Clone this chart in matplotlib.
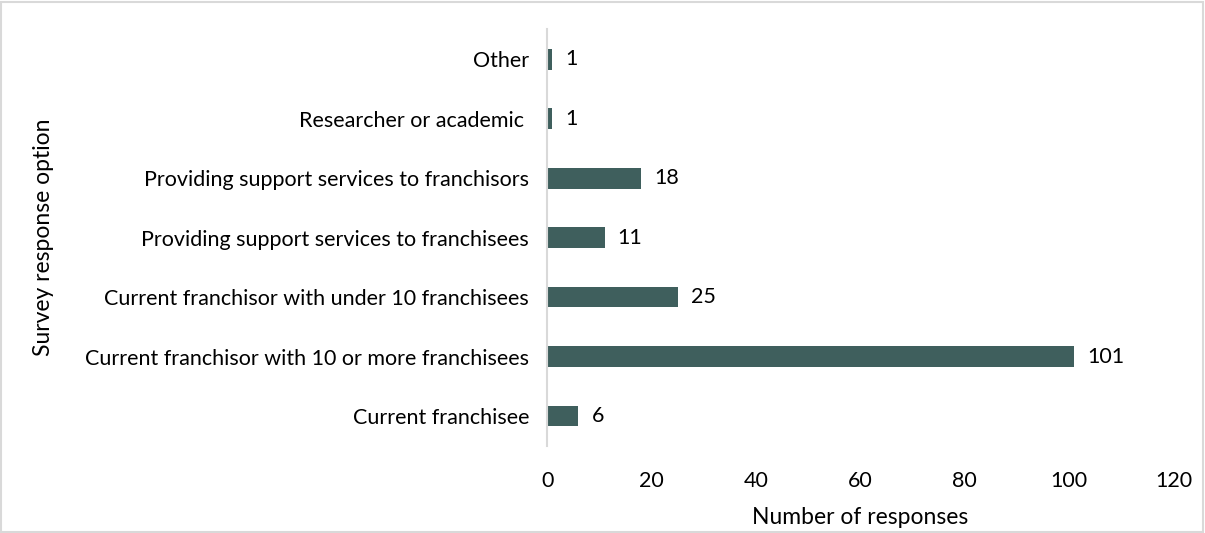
import matplotlib.pyplot as plt
from matplotlib.patches import Rectangle

categories = [
    'Current franchisee',
    'Current franchisor with 10 or more franchisees',
    'Current franchisor with under 10 franchisees',
    'Providing support services to franchisees',
    'Providing support services to franchisors',
    'Researcher or academic ',
    'Other',
]
responses = [6, 101, 25, 11, 18, 1, 1]
x_ticks = [0, 20, 40, 60, 80, 100, 120]

plt.rcParams['font.family'] = ['Lato', 'DejaVu Sans']

fig = plt.figure(figsize=(12.05, 5.33), dpi=100)
ax = fig.add_axes([0.454, 0.1637, 0.52, 0.781])

ypos = range(len(categories))
bars = ax.barh(ypos, responses, height=0.35, color='#3f5f5d')
for y, v in zip(ypos, responses):
    ax.text(v + 2.5, y, str(v), va='center', ha='left', fontsize=15.5, color='#000000')

ax.set_yticks(list(ypos))
ax.set_yticklabels(categories, fontsize=15.5)
ax.set_xticks(x_ticks)
ax.set_xticklabels([str(t) for t in x_ticks], fontsize=15.5)
ax.set_xlim(0, 120)
ax.set_ylim(-0.5, 6.5)
ax.tick_params(length=0)
ax.tick_params(axis='x', pad=18)
ax.tick_params(axis='y', pad=13)

for s in ['top', 'right', 'bottom']:
    ax.spines[s].set_visible(False)
ax.spines['left'].set_color('#d9d9d9')
ax.spines['left'].set_linewidth(1.5)

ax.set_xlabel('Number of responses', fontsize=16.5, labelpad=12)
fig.text(0.036, 0.555, 'Survey response option', rotation=90, fontsize=16.5,
         va='center', ha='center')

fig.patches.append(Rectangle((0.001, 0.002), 0.997, 0.995, transform=fig.transFigure,
                             fill=False, edgecolor='#d9d9d9', linewidth=1.5))

fig.savefig('out.png', dpi=100)
